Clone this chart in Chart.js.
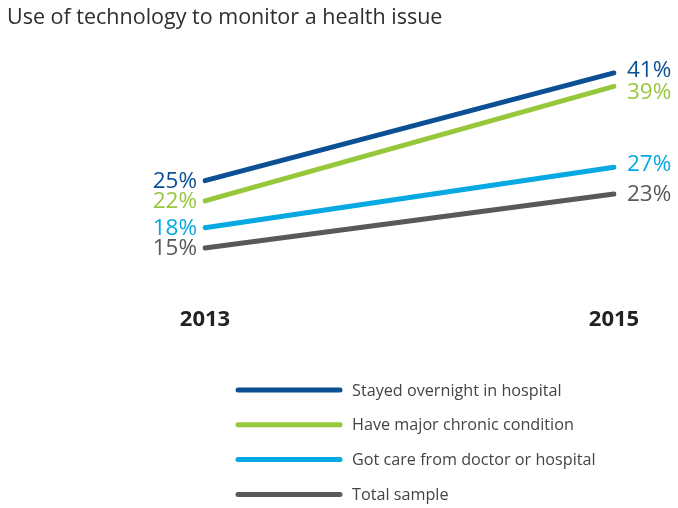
<!DOCTYPE html>
<html>
<head>
<meta charset="utf-8">
<script src="https://cdn.jsdelivr.net/npm/chart.js@4/dist/chart.umd.min.js"></script>
<style>
  html, body { margin: 0; padding: 0; background: #fff; }
  #wrap { width: 678px; height: 508px; position: relative; }
</style>
</head>
<body>
<div id="wrap"><canvas id="techChart" width="678" height="508"></canvas></div>
<script>
const years = ['2013', '2015'];
const seriesNames = [
    'Stayed overnight in hospital',
    'Have major chronic condition',
    'Got care from doctor or hospital',
    'Total sample'
];
const overnightValues = [25, 41];
const chronicValues = [22, 39];
const careValues = [18, 27];
const totalValues = [15, 23];
const chartTitle = 'Use of technology to monitor a health issue';

const seriesColors = ['#0b4f94', '#97c83c', '#06a9e2', '#58595b'];
const fontFamily = '"Open Sans", "Noto Sans", sans-serif';
// nudge the right-hand labels apart so they don't collide
const rightLabelNudge = [-3.5, 5, -3.5, 0];

// end labels + legend + title drawn on the canvas
const decorPlugin = {
    id: 'decor',
    afterDatasetsDraw(chart) {
        const c = chart.ctx;
        c.save();
        // title
        c.font = '21.5px ' + fontFamily;
        c.fillStyle = '#2e2e2e';
        c.textAlign = 'left';
        c.textBaseline = 'middle';
        c.fillText(chartTitle, 7, 18);

        // value labels at both ends
        c.font = '22.5px ' + fontFamily;
        chart.data.datasets.forEach((ds, i) => {
            const meta = chart.getDatasetMeta(i);
            const first = meta.data[0];
            const last = meta.data[meta.data.length - 1];
            c.fillStyle = ds.borderColor;
            c.textAlign = 'right';
            c.fillText(ds.data[0] + '%', first.x - 8, first.y + 1);
            c.textAlign = 'left';
            c.fillText(ds.data[ds.data.length - 1] + '%', last.x + 13, last.y + 1 + rightLabelNudge[i]);
        });

        // legend
        c.font = '16.2px ' + fontFamily;
        c.lineCap = 'round';
        chart.data.datasets.forEach((ds, i) => {
            const y = 390 + i * 34.8;
            c.strokeStyle = ds.borderColor;
            c.lineWidth = 5;
            c.beginPath();
            c.moveTo(238, y);
            c.lineTo(340, y);
            c.stroke();
            c.fillStyle = '#444444';
            c.textAlign = 'left';
            c.fillText(ds.label, 352, y + 1);
        });
        c.restore();
    }
};

const valueSets = [overnightValues, chronicValues, careValues, totalValues];
const datasets = valueSets.map((vals, i) => ({
    label: seriesNames[i],
    data: vals,
    borderColor: seriesColors[i],
    backgroundColor: seriesColors[i],
    borderWidth: 5,
    borderCapStyle: 'round',
    pointRadius: 0,
    tension: 0,
    fill: false
}));

new Chart(document.getElementById('techChart').getContext('2d'), {
    type: 'line',
    data: { labels: years, datasets },
    plugins: [decorPlugin],
    options: {
        responsive: false,
        animation: false,
        layout: { padding: { left: 205, right: 64, top: 46, bottom: 158 } },
        plugins: {
            legend: { display: false },
            tooltip: { enabled: false },
            title: { display: false }
        },
        scales: {
            x: {
                offset: false,
                grid: { display: false },
                border: { display: false },
                ticks: {
                    color: '#222222',
                    font: { family: fontFamily, size: 22, weight: 'bold' },
                    padding: 17,
                    maxRotation: 0
                }
            },
            y: {
                display: false,
                min: 10,
                max: 45
            }
        }
    }
});
</script>
</body>
</html>
